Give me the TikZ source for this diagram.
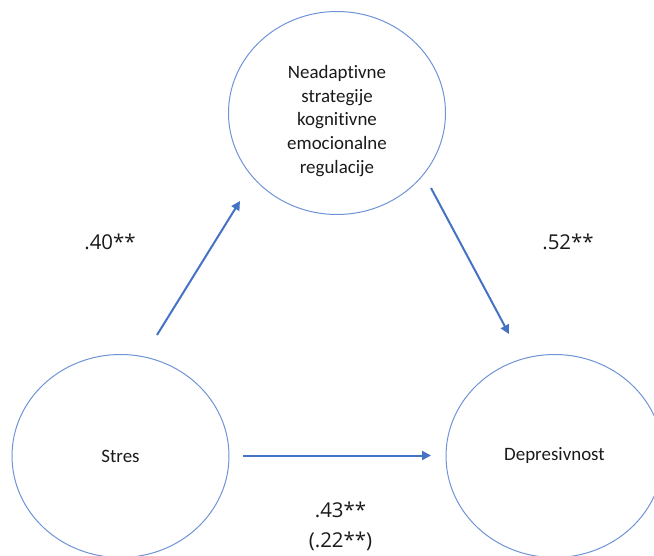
\documentclass[tikz,border=0pt]{standalone}
\usepackage{fontspec}
\setmainfont{Carlito}[Ligatures={NoCommon,NoContextual}]
\newfontfamily\coeffont{Open Sans}
\usetikzlibrary{shapes.geometric,arrows.meta}
\definecolor{ringblue}{HTML}{6F93D6}
\definecolor{arrowblue}{HTML}{4472C4}
\definecolor{txt}{HTML}{1A1A1A}
\tikzset{
  var/.style={ellipse,draw=ringblue,line width=1bp,minimum width=217bp,minimum height=203bp,inner sep=0pt,align=center,text=txt,font=\fontsize{19}{23.8}\selectfont},
  arr/.style={draw=arrowblue,line width=2bp,-{Triangle[length=9bp,width=9bp]}},
  coef/.style={text=txt,font=\coeffont\fontsize{20.5}{30}\selectfont,align=center,inner sep=0pt}
}
\begin{document}
\begin{tikzpicture}[x=1bp,y=-1bp]
\useasboundingbox (0,0) rectangle (654,556);
\node[var] (m) at (337,113) {};
\node[text=txt,font=\fontsize{19}{23.8}\selectfont,align=center] (mt) at (337,121) {Neadaptivne\\strategije\\kognitivne\\emocionalne\\regulacije};
\node[var] (s) at (120.5,456) {Stres};
\node[var] (d) at (554.5,456) {Depresivnost};
\coordinate (a1s) at (157,335);
\coordinate (a1e) at (240,201);
\coordinate (a2s) at (431,188);
\coordinate (a2e) at (509,334);
\coordinate (a3s) at (243,455.5);
\coordinate (a3e) at (431,455.5);
\draw[arr] (a1s) -- (a1e);
\draw[arr] (a2s) -- (a2e);
\draw[arr] (a3s) -- (a3e);
\node[coef] (l1) at (110,242) {.40**};
\node[coef] (l2) at (568,242) {.52**};
\node[coef] (l3) at (340.5,526) {.43**\\(.22**)};
\end{tikzpicture}
\end{document}
